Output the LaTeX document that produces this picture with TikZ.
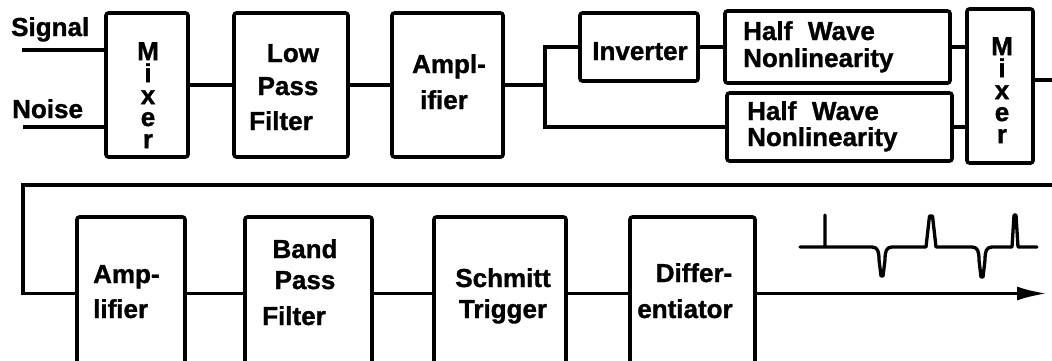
\documentclass[tikz,border=0pt]{standalone}
\usepackage{fontspec}
\setmainfont{Liberation Sans}[BoldFeatures={FakeBold=1.2}]
\usetikzlibrary{arrows.meta}
\begin{document}
\begin{tikzpicture}[x=1pt,y=-1pt,
  box/.style={draw, line width=3.6pt, rounded corners=2.5pt, inner sep=0pt},
  wire/.style={line width=3.3pt},
  lbl/.style={font=\fontsize{26}{30}\selectfont\bfseries, inner sep=0pt, anchor=base},
  lbll/.style={lbl, anchor=base west},
  mxl/.style={font=\fontsize{26}{22}\selectfont\bfseries, inner sep=0pt, align=center, anchor=north},
]
\clip (0,0) rectangle (1052,360);

% ---- upper chain ----
\node[lbll] (sig) at (11,36) {Signal};
\node[lbll] (noi) at (12,118) {Noise};

\node[box, minimum width=82pt, minimum height=144pt] (mx1) at (147,85) {};
\node[mxl] (mx1-t) at (148,42) {M\\i\\x\\e\\r};

\node[box, minimum width=114pt, minimum height=144pt] (lpf) at (291,85) {};
\node[lbl] (lpf-1) at (293,62) {Low};
\node[lbl] (lpf-2) at (288,95) {Pass};
\node[lbl] (lpf-3) at (281,130) {Filter};

\node[box, minimum width=111pt, minimum height=144pt] (ampl) at (447.5,85) {};
\node[lbl] (ampl-1) at (449,73) {Ampl-};
\node[lbl] (ampl-2) at (444,109) {ifier};

\node[box, minimum width=118pt, minimum height=68pt] (inv) at (639,47) {};
\node[lbl] (inv-1) at (640,60) {Inverter};

\node[box, minimum width=225pt, minimum height=72pt] (hw1) at (837.5,47) {};
\node[lbll] (hw1-1) at (743,40) {Half\hspace{0.6em}Wave};
\node[lbll] (hw1-2) at (743,67) {Nonlinearity};

\node[box, minimum width=225pt, minimum height=68pt] (hw2) at (839.5,127) {};
\node[lbll] (hw2-1) at (747,120) {Half\hspace{0.6em}Wave};
\node[lbll] (hw2-2) at (747,146) {Nonlinearity};

\node[box, minimum width=66pt, minimum height=154pt] (mx2) at (1000,86) {};
\node[mxl] (mx2-t) at (1002,37) {M\\i\\x\\e\\r};

\coordinate (sigend) at (22,50);
\coordinate (noiend) at (23,127);
\coordinate (br) at (545,85);
\coordinate (m2out) at (1060,80);

\draw[wire] (sigend) -- (sigend -| mx1.west);
\draw[wire] (noiend) -- (noiend -| mx1.west);
\draw[wire] (mx1.east) -- (lpf.west);
\draw[wire] (lpf.east) -- (ampl.west);
\draw[wire] (ampl.east) -- (br);
\draw[wire] (br) |- (inv.west);
\draw[wire] (br) |- (hw2.west);
\draw[wire] (inv.east) -- (hw1.west);
\draw[wire] (hw1.east) -- (hw1.east -| mx2.west);
\draw[wire] (hw2.east) -- (hw2.east -| mx2.west);
\draw[wire] (m2out -| mx2.east) -- (m2out);

% ---- return path ----
\coordinate (fbR) at (1060,185);
\coordinate (fbL) at (23,185);

% ---- lower chain ----
\node[box, minimum width=108pt, minimum height=153pt] (amp) at (131,293.5) {};
\node[lbll] (amp-1) at (93,283) {Amp-};
\node[lbll] (amp-2) at (93,318) {lifier};

\node[box, minimum width=127pt, minimum height=153pt] (bpf) at (308.5,293.5) {};
\node[lbl] (bpf-1) at (305,258) {Band};
\node[lbl] (bpf-2) at (305,289) {Pass};
\node[lbl] (bpf-3) at (294,325) {Filter};

\node[box, minimum width=132pt, minimum height=153pt] (sch) at (500,293.5) {};
\node[lbl] (sch-1) at (503,287) {Schmitt};
\node[lbl] (sch-2) at (503,318) {Trigger};

\node[box, minimum width=125pt, minimum height=153pt] (dif) at (692.5,293.5) {};
\node[lbl] (dif-1) at (694,282) {Differ-};
\node[lbl] (dif-2) at (685,318) {entiator};

\coordinate (outend) at (1047,292);

\draw[wire] (fbR) -- (fbL) |- (amp.west);
\draw[wire] (amp.east) -- (bpf.west);
\draw[wire] (bpf.east) -- (sch.west);
\draw[wire] (sch.east) -- (dif.west);
\draw[wire, -{Latex[length=30pt,width=14pt]}] (dif.east) -- (dif.east -| outend);

% ---- output pulse train ----
\draw[wire, line join=round, line cap=round]
  (800,247) -- (825,247) -- (825,215) -- (825,247)
  -- (872,247) .. controls (878,247) and (879,252) .. (879,260)
  -- (881,276) -- (883,276) -- (885,260)
  .. controls (885,252) and (886,247) .. (892,247)
  -- (926,247) -- (929.5,216) -- (932.5,216) -- (936,247)
  -- (972,247) .. controls (978,247) and (979,252) .. (979,260)
  -- (981,277) -- (983,277) -- (985,260)
  .. controls (985,252) and (986,247) .. (992,247)
  -- (1012,247) -- (1014,215) -- (1016,215) -- (1018,247)
  -- (1037,247);
\end{tikzpicture}
\end{document}
